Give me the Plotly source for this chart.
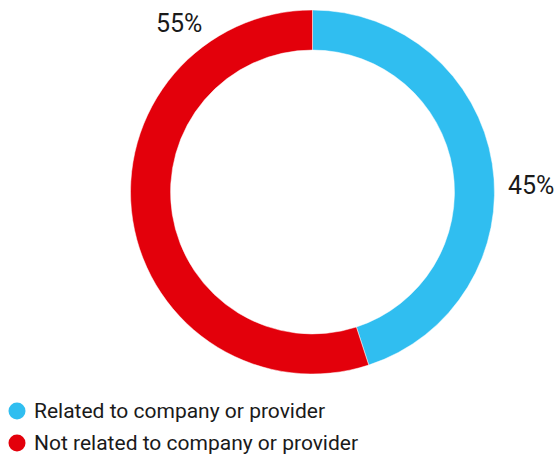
import plotly.graph_objects as go

# Share of cases by relation to company or provider
categories = ["Related to company or provider", "Not related to company or provider"]
shares = [45, 55]
colors = ["#30BEF0", "#E3000B"]
value_labels = ["45%", "55%"]

W, H = 557, 457
cx, cy, r = 312.5, 192, 182  # donut centre and outer radius, px

fig = go.Figure()
fig.add_trace(go.Pie(
    labels=categories,
    values=shares,
    marker=dict(colors=colors, line=dict(color="white", width=0.5)),
    hole=0.78,
    sort=False,
    direction="clockwise",
    rotation=0,
    textinfo="none",
    hoverinfo="label+percent",
    showlegend=False,
    domain=dict(x=[(cx - r) / W, (cx + r) / W],
                y=[(H - cy - r) / H, (H - cy + r) / H]),
))

font = dict(family="Roboto, sans-serif", color="#1a1a1a")

# Value labels beside the ring
label_pos = [(531, 185), (179, 23)]
for txt, (x, y) in zip(value_labels, label_pos):
    fig.add_annotation(x=x / W, y=1 - y / H, xref="paper", yref="paper",
                       text=txt, showarrow=False, xanchor="center", yanchor="middle",
                       font=dict(size=25, **font))

# Legend rows: coloured dot + category name
legend_y = [411, 443]
for name, col, y in zip(categories, colors, legend_y):
    fig.add_shape(type="circle", xref="paper", yref="paper",
                  x0=(17 - 8.5) / W, x1=(17 + 8.5) / W,
                  y0=1 - (y + 8.5) / H, y1=1 - (y - 8.5) / H,
                  fillcolor=col, line=dict(width=0))
    fig.add_annotation(x=32 / W, y=1 - y / H, xref="paper", yref="paper",
                       text=name, showarrow=False, xanchor="left", yanchor="middle",
                       font=dict(size=21, **font))

fig.update_layout(
    width=W, height=H,
    margin=dict(l=0, r=0, t=0, b=0),
    paper_bgcolor="white", plot_bgcolor="white",
)

fig.write_html("out.html")
